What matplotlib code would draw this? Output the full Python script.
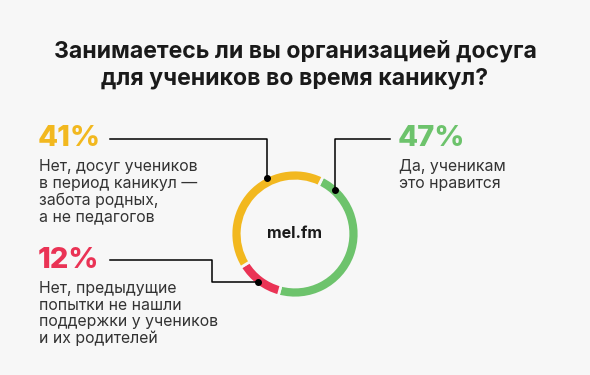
import matplotlib
import matplotlib.pyplot as plt

matplotlib.use('Agg')

# answers, clockwise from the top-right
shares = [47, 12, 41]
pct_labels = ['47%', '12%', '41%']
colors = ['#6dc36c', '#ea3355', '#f2b81f']
descriptions = [
    'Да, ученикам\nэто нравится',
    'Нет, предыдущие\nпопытки не нашли\nподдержки у учеников\nи их родителей',
    'Нет, досуг учеников\nв период каникул —\nзабота родных,\nа не педагогов',
]
title = 'Занимаетесь ли вы организацией досуга\nдля учеников во время каникул?'

W, H = 590, 375
BG = '#f7f7f7'
FONT = ['Inter', 'DejaVu Sans']


def Y(y):
    # picture rows go down, axes go up
    return H - y


fig = plt.figure(figsize=(W / 100, H / 100), dpi=100, facecolor=BG)
ax = fig.add_axes([0, 0, 1, 1])
ax.set_facecolor(BG)

ax.pie(shares, colors=colors, center=(295, Y(234)), radius=64,
       startangle=64, counterclock=False, frame=True,
       wedgeprops=dict(width=11, edgecolor=BG, linewidth=2))
ax.set_xlim(0, W)
ax.set_ylim(0, H)
ax.set_aspect('equal')
ax.axis('off')

ax.text(295, Y(65), title, ha='center', va='center', fontsize=16.6,
        fontweight='bold', color='#1a1a1a', family=FONT, linespacing=1.3)
ax.text(294, Y(234), 'mel.fm', ha='center', va='center', fontsize=11.5,
        fontweight='bold', color='#1a1a1a', family=FONT)

# label blocks: (x of text, y of percent)
blocks = [(398, 138), (38, 260), (38, 138)]
for (x, y), pct, desc, c in zip(blocks, pct_labels, descriptions, colors):
    ax.text(x, Y(y), pct, ha='left', va='center', fontsize=21,
            fontweight='heavy', color=c, family=FONT)
    ax.text(x + 1, Y(y + 21), desc, ha='left', va='top', fontsize=11.4,
            color='#333333', family=FONT, linespacing=1.13)

# leader lines to the ring
leaders = [
    ([390, 335, 335], [139, 139, 190]),
    ([110, 212, 212, 258], [260, 260, 282, 282]),
    ([110, 267, 267], [139, 139, 178]),
]
for xs, ys in leaders:
    ax.plot(xs, [Y(v) for v in ys], color='black', lw=1.1)
    ax.plot(xs[-1], Y(ys[-1]), 'o', color='black', ms=4)

fig.savefig('out.png', dpi=100, facecolor=BG)
